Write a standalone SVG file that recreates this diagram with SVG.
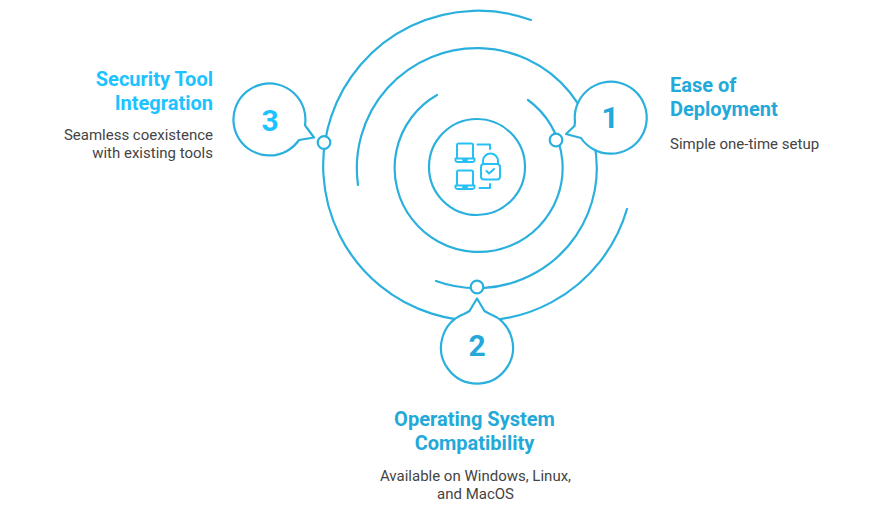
<svg xmlns="http://www.w3.org/2000/svg" width="883" height="509" viewBox="0 0 883 509">
<style>
text{font-family:Roboto,"Liberation Sans",sans-serif}
.l{fill:none;stroke:#2bb0dd;stroke-width:2.2;stroke-linecap:round;stroke-linejoin:round}
.b{fill:#fff;stroke:#2bb0dd;stroke-width:2.2;stroke-linejoin:round}
.k{fill:#fff;stroke:#2bb0dd;stroke-width:2.2}
.i{fill:none;stroke:#27c0f5;stroke-width:2;stroke-linecap:round;stroke-linejoin:round}
.t{font-size:20px;font-weight:700}
.d{font-size:15px;fill:#444}
.n{font-size:30px;font-weight:700;text-anchor:middle}
.e{text-anchor:end}
.m{text-anchor:middle}
.c1{fill:#22a9d9}
.c2{fill:#1cc3ff}
</style>
<rect width="883" height="509" fill="#fff"/>
<g id="connectors">
<circle class="l" cx="477" cy="167" r="48"/>
<path class="l" d="M437 95A84 84 0 1 0 528 100"/>
<path class="l" d="M358 185A120 120 0 1 1 436 281"/>
<path class="l" d="M531 20A155 155 0 1 0 627 209"/>
</g>
<g id="center-icon">
<rect class="i" x="457" y="143.500" width="16" height="15" rx="1.500"/>
<path class="i" d="M457 158.500H455.500Q455 162 457.500 162H472.500Q475 162 474.500 158.500H473M463 160H467"/>
<rect class="i" x="457" y="170.500" width="16" height="15" rx="1.500"/>
<path class="i" d="M457 185.500H455.500Q455 189 457.500 189H472.500Q475 189 474.500 185.500H473M463 187H467"/>
<path class="i" d="M477.500 144.500H490V149M479.500 188H490V184"/>
<rect class="i" x="481" y="164" width="19" height="15.500" rx="3"/>
<path class="i" d="M483 164V161A7.500 7.500 0 0 1 498 161V164M486.500 171L489 173.500L494 169"/>
</g>
<g id="node-1">
<path class="b" d="M581 138A36 36 0 1 0 575 122L574.500 126L566 134Z"/>
<text class="n c1" x="610" y="128">1</text>
<circle class="k" cx="556" cy="140" r="6.300"/>
<text class="t c1" x="670" y="91.500">Ease of</text>
<text class="t c1" x="670" y="115.500">Deployment</text>
<text class="d" x="670" y="149">Simple one-time setup</text>
</g>
<g id="node-2">
<path class="b" d="M464 314A36 36 0 1 0 490 314Q486 312 484.500 311L477 298.500L469.500 311Q468 312 464 314Z"/>
<text class="n c1" x="477" y="356">2</text>
<circle class="k" cx="477" cy="287" r="6.300"/>
<text class="t c1 m" x="474.500" y="425.500">Operating System</text>
<text class="t c1 m" x="474.500" y="449.500">Compatibility</text>
<text class="d m" x="475.500" y="481">Available on Windows, Linux,</text>
<text class="d m" x="475.500" y="498.500">and MacOS</text>
</g>
<g id="node-3">
<path class="b" d="M299 140A36 36 0 1 1 305 125L305.500 126L314 137.500Z"/>
<text class="n c2" x="270" y="131">3</text>
<circle class="k" cx="324" cy="142.500" r="6.300"/>
<text class="t c2 e" x="213" y="85.500">Security Tool</text>
<text class="t c2 e" x="213" y="109.500">Integration</text>
<text class="d e" x="213" y="140">Seamless coexistence</text>
<text class="d e" x="213" y="158">with existing tools</text>
</g>
</svg>
